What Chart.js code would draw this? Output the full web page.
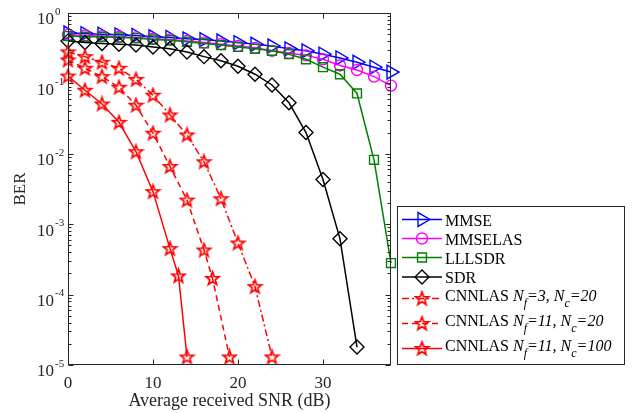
<!DOCTYPE html>
<html>
<head>
<meta charset="utf-8">
<script src="https://cdn.jsdelivr.net/npm/chart.js@4/dist/chart.umd.min.js"></script>
<style>
  html, body { margin: 0; padding: 0; background: #ffffff; }
  #wrap { width: 635px; height: 413px; }
</style>
</head>
<body>
<div id="wrap"><canvas id="ber" width="635" height="413"></canvas></div>
<script>
// SNR grid (dB) and BER curves
const snrMain = [0, 2, 4, 6, 8, 10, 12, 14, 16, 18, 20, 22, 24, 26, 28, 30, 32, 34, 36, 38];
const berMMSE = [0.52, 0.51, 0.50, 0.49, 0.48, 0.46, 0.45, 0.43, 0.42, 0.40, 0.38, 0.36, 0.34, 0.31, 0.29, 0.26, 0.23, 0.20, 0.17, 0.145];
const berMMSELAS = [0.49, 0.48, 0.47, 0.46, 0.45, 0.43, 0.42, 0.40, 0.38, 0.36, 0.34, 0.32, 0.29, 0.27, 0.25, 0.22, 0.18, 0.155, 0.125, 0.093];
const berLLLSDR = [0.47, 0.46, 0.46, 0.45, 0.44, 0.42, 0.41, 0.39, 0.37, 0.35, 0.33, 0.31, 0.29, 0.26, 0.22, 0.17, 0.135, 0.072, 0.0082, 0.00028];

const snrSDR = [0, 2, 4, 6, 8, 10, 12, 14, 16, 18, 20, 22, 24, 26, 28, 30, 32, 34];
const berSDR = [0.40, 0.38, 0.37, 0.36, 0.35, 0.33, 0.31, 0.28, 0.24, 0.21, 0.175, 0.135, 0.095, 0.053, 0.020, 0.0043, 0.00062, 0.000018];

const snrCnnA = [0, 2, 4, 6, 8, 10, 12, 14, 16, 18, 20, 22, 24];
const berCnnA = [0.28, 0.24, 0.20, 0.164, 0.114, 0.068, 0.0356, 0.0185, 0.0077, 0.0023, 0.00054, 0.00013, 0.000013];

const snrCnnB = [0, 2, 4, 6, 8, 10, 12, 14, 16, 17, 19];
const berCnnB = [0.215, 0.164, 0.125, 0.088, 0.049, 0.0196, 0.0066, 0.0022, 0.00043, 0.00017, 0.000013];

const snrCnnC = [0, 2, 4, 6, 8, 10, 12, 13, 14];
const berCnnC = [0.127, 0.08, 0.051, 0.028, 0.0107, 0.0029, 0.00045, 0.000184, 0.000013];

const xTickValues = [0, 10, 20, 30];
const yDecades = [0, -1, -2, -3, -4, -5];

const seriesNames = ['MMSE', 'MMSELAS', 'LLLSDR', 'SDR'];
const cnnPrefix = 'CNNLAS ';
const cnnNf = ['3', '11', '11'];
const cnnNc = ['20', '20', '100'];

const SERIF = '"Liberation Serif", "Times New Roman", serif';
const AXIS_INK = '#262626';

// five-pointed star marker
function makeStar(color) {
  const c = document.createElement('canvas');
  c.width = 17; c.height = 17;
  const g = c.getContext('2d');
  const cx = 8.5, cy = 8.9, R = 7.0, r = 2.9;
  g.beginPath();
  for (let i = 0; i < 10; i++) {
    const rad = (i % 2 === 0) ? R : r;
    const a = -Math.PI / 2 + i * Math.PI / 5;
    const px = cx + rad * Math.cos(a), py = cy + rad * Math.sin(a);
    if (i === 0) g.moveTo(px, py); else g.lineTo(px, py);
  }
  g.closePath();
  g.lineWidth = 1.7;
  g.lineJoin = 'miter';
  g.strokeStyle = color;
  g.stroke();
  return c;
}
const starImg = makeStar('#ff0000');

function pts(xs, ys) { return xs.map((x, i) => ({ x: x, y: ys[i] })); }

const styleDefs = [
  { color: '#0000ff', pointStyle: 'triangle', rotation: 90, radius: 8, dash: [] },
  { color: '#ff00ff', pointStyle: 'circle', rotation: 0, radius: 5.5, dash: [] },
  { color: '#008000', pointStyle: 'rect', rotation: 0, radius: 6.3, dash: [] },
  { color: '#000000', pointStyle: 'rectRot', rotation: 0, radius: 7, dash: [] },
  { color: '#ff0000', pointStyle: starImg, rotation: 0, radius: 8, dash: [7, 3, 2, 3] },
  { color: '#ff0000', pointStyle: starImg, rotation: 0, radius: 8, dash: [6, 4] },
  { color: '#ff0000', pointStyle: starImg, rotation: 0, radius: 8, dash: [] }
];

const seriesData = [
  pts(snrMain, berMMSE),
  pts(snrMain, berMMSELAS),
  pts(snrMain, berLLLSDR),
  pts(snrSDR, berSDR),
  pts(snrCnnA, berCnnA),
  pts(snrCnnB, berCnnB),
  pts(snrCnnC, berCnnC)
];

const datasets = seriesData.map((d, i) => {
  const s = styleDefs[i];
  return {
    data: d,
    borderColor: s.color,
    borderWidth: 1.5,
    borderDash: s.dash,
    pointStyle: s.pointStyle,
    pointRotation: s.rotation,
    pointRadius: s.radius,
    pointHoverRadius: s.radius,
    pointBorderWidth: 1.4,
    pointBorderColor: s.color,
    pointBackgroundColor: 'rgba(0,0,0,0)',
    tension: 0,
    fill: false,
    clip: false,
    order: 7 - i
  };
});

// axes box, inward ticks, log tick labels and legend
const decorations = {
  id: 'decorations',
  afterDraw(chart) {
    const ctx = chart.ctx;
    const a = chart.chartArea;
    const xs = chart.scales.x, ys = chart.scales.y;
    const L = Math.round(a.left) + 0.5, R = Math.round(a.right) - 0.5;
    const T = Math.round(a.top) + 0.5, B = Math.round(a.bottom) - 0.5;
    ctx.save();
    ctx.strokeStyle = AXIS_INK;
    ctx.lineWidth = 1;
    ctx.setLineDash([]);
    ctx.strokeRect(L, T, R - L, B - T);

    ctx.beginPath();
    yDecades.forEach(e => {
      const base = Math.pow(10, e);
      const y = Math.round(ys.getPixelForValue(base)) + 0.5;
      ctx.moveTo(L, y); ctx.lineTo(L + 5, y);
      ctx.moveTo(R, y); ctx.lineTo(R - 5, y);
      if (e < 0) {
        for (let k = 2; k <= 9; k++) {
          const ym = Math.round(ys.getPixelForValue(k * base)) + 0.5;
          ctx.moveTo(L, ym); ctx.lineTo(L + 3, ym);
          ctx.moveTo(R, ym); ctx.lineTo(R - 3, ym);
        }
      }
    });
    xTickValues.forEach(v => {
      const x = Math.round(xs.getPixelForValue(v)) + 0.5;
      ctx.moveTo(x, B); ctx.lineTo(x, B - 5);
      ctx.moveTo(x, T); ctx.lineTo(x, T + 5);
    });
    ctx.stroke();

    // y tick labels 10^e
    ctx.fillStyle = AXIS_INK;
    ctx.textBaseline = 'middle';
    yDecades.forEach(e => {
      const y = ys.getPixelForValue(Math.pow(10, e));
      ctx.font = '17px ' + SERIF;
      ctx.textAlign = 'right';
      ctx.fillText('10', 54, y + 7);
      ctx.font = '11px ' + SERIF;
      ctx.textAlign = 'left';
      ctx.fillText(String(e), 55, y - 1);
    });

    // legend
    const bx = 397.5, by = 206.5, bw = 227, bh = 158;
    ctx.fillStyle = '#ffffff';
    ctx.fillRect(bx, by, bw, bh);
    ctx.strokeStyle = AXIS_INK;
    ctx.lineWidth = 1;
    ctx.strokeRect(bx, by, bw, bh);

    const rowY = [219.5, 238.5, 257.5, 277, 298.5, 323.5, 348.5];
    const x0 = 402, x1 = 442, xm = 422, tx = 445;
    rowY.forEach((y, i) => {
      const s = styleDefs[i];
      ctx.save();
      ctx.strokeStyle = s.color;
      ctx.lineWidth = 1.5;
      ctx.setLineDash(s.dash);
      ctx.beginPath();
      ctx.moveTo(x0, y); ctx.lineTo(x1, y);
      ctx.stroke();
      ctx.setLineDash([]);
      if (typeof s.pointStyle === 'string') {
        ctx.fillStyle = 'rgba(0,0,0,0)';
        ctx.strokeStyle = s.color;
        ctx.lineWidth = 1.4;
        Chart.helpers.drawPoint(ctx, { pointStyle: s.pointStyle, rotation: s.rotation, radius: s.radius, borderWidth: 1.4 }, xm, y);
      } else {
        ctx.drawImage(s.pointStyle, xm - s.pointStyle.width / 2, y - s.pointStyle.height / 2);
      }
      ctx.restore();

      ctx.fillStyle = '#000000';
      ctx.textAlign = 'left';
      ctx.textBaseline = 'alphabetic';
      if (i < 4) {
        ctx.font = '16px ' + SERIF;
        ctx.fillText(seriesNames[i], tx, y + 6);
      } else {
        const j = i - 4;
        const base = y + 2.5;
        let cx = tx;
        const run = (txt, font, dy) => {
          ctx.font = font;
          ctx.fillText(txt, cx, base + dy);
          cx += ctx.measureText(txt).width;
        };
        const reg = '16px ' + SERIF, it = 'italic 16px ' + SERIF, sub = 'italic 12px ' + SERIF;
        run(cnnPrefix, reg, 0);
        run('N', it, 0);
        run('f', sub, 6);
        run('=' + cnnNf[j] + ', N', it, 0);
        run('c', sub, 6);
        run('=' + cnnNc[j], it, 0);
      }
    });
    ctx.restore();
  }
};

new Chart(document.getElementById('ber'), {
  type: 'line',
  data: { datasets: datasets },
  plugins: [decorations],
  options: {
    responsive: false,
    animation: false,
    events: [],
    layout: { padding: { left: 0, top: 13, right: 244, bottom: 0 } },
    plugins: { legend: { display: false }, tooltip: { enabled: false } },
    scales: {
      x: {
        type: 'linear',
        min: 0,
        max: 38,
        afterFit(scale) { scale.height = 48; },
        afterBuildTicks(scale) { scale.ticks = xTickValues.map(v => ({ value: v })); },
        grid: { display: false, drawTicks: false },
        border: { display: false },
        ticks: {
          padding: 8,
          color: AXIS_INK,
          font: { family: SERIF, size: 17 },
          maxRotation: 0,
          callback: v => String(v)
        },
        title: {
          display: true,
          text: 'Average received SNR (dB)',
          color: AXIS_INK,
          font: { family: SERIF, size: 18 },
          padding: { top: 0, bottom: 1 }
        }
      },
      y: {
        type: 'logarithmic',
        min: 1e-5,
        max: 1,
        afterFit(scale) { scale.width = 68; },
        grid: { display: false, drawTicks: false },
        border: { display: false },
        ticks: { display: false },
        title: {
          display: true,
          text: 'BER',
          color: AXIS_INK,
          font: { family: SERIF, size: 17 },
          padding: { top: 10, bottom: 0 }
        }
      }
    }
  }
});
</script>
</body>
</html>
